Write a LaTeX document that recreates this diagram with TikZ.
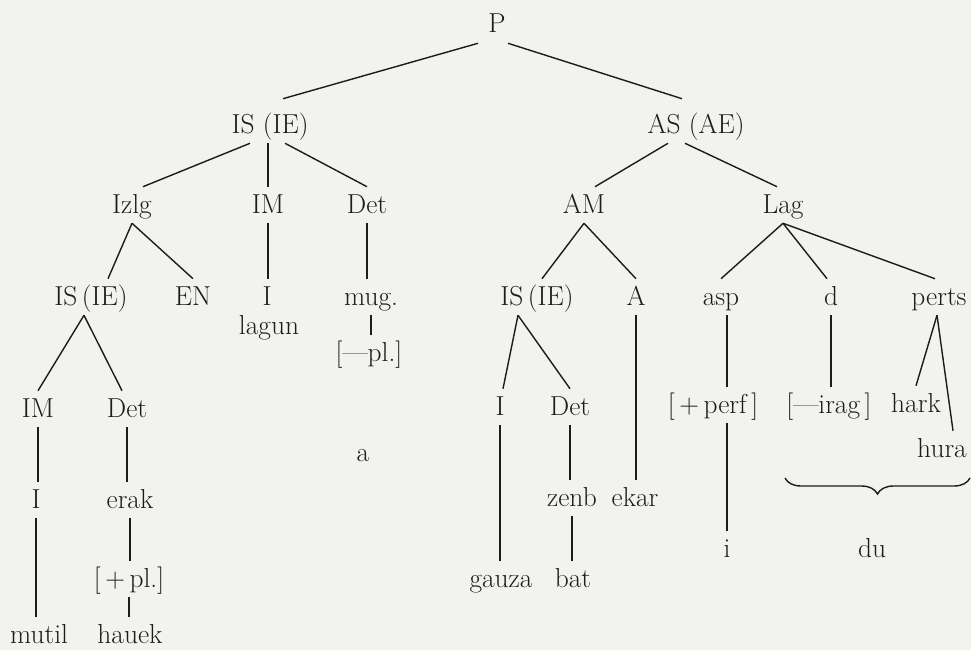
\documentclass[tikz,border=0pt]{standalone}
\usetikzlibrary{decorations.pathreplacing}
\definecolor{paper}{RGB}{242,242,238}
\definecolor{ink}{RGB}{28,28,28}
\tikzset{
  cat/.style={anchor=base,inner xsep=0pt,inner ysep=0.15cm,text height=0.5cm,text depth=0.1cm,text=ink,font=\fontsize{19.5}{23}\selectfont},
  twig/.style={draw=ink,line width=1pt}
}
\begin{document}
\begin{tikzpicture}[x=0.025cm,y=-0.025cm]
\fill[paper] (0,0) rectangle (971,650);
\useasboundingbox (0,0) rectangle (971,650);
\node[cat] (p) at (497,33) {P};
\node[cat] (isA) at (270,133) {IS (IE)};
\node[cat] (as) at (696,133) {AS (AE)};
\node[cat] (izlg) at (132,213) {Izlg};
\node[cat] (im1) at (268,213) {IM};
\node[cat] (det1) at (367,213) {Det};
\node[cat] (am) at (584,213) {AM};
\node[cat] (lag) at (783,213) {Lag};
\node[cat] (isB) at (91,305) {IS\,(IE)};
\node[cat] (en) at (193,305) {EN};
\node[cat] (i1) at (267,305) {I};
\node[cat] (mug) at (371,305) {mug.};
\node[cat] (isC) at (537,305) {IS\,(IE)};
\node[cat] (a1) at (636,305) {A};
\node[cat] (asp) at (721,305) {asp};
\node[cat] (d) at (831,305) {d};
\node[cat] (perts) at (939,305) {perts};
\node[cat] (lagun) at (269,334) {lagun};
\node[cat] (plA) at (369,361) {[---pl.]};
\node[cat] (a2) at (363,461) {a};
\node[cat] (im2) at (38,417) {IM};
\node[cat] (det2) at (127,417) {Det};
\node[cat] (i2) at (500,415) {I};
\node[cat] (det3) at (570,415) {Det};
\node[cat] (perf) at (713,413) {[\,+\,perf\,]};
\node[cat] (irag) at (829,413) {[---irag\,]};
\node[cat] (hark) at (916,412) {hark};
\node[cat] (hura) at (942,457) {hura};
\node[cat] (i3) at (36,508) {I};
\node[cat] (erak) at (130,508) {erak};
\node[cat] (zenb) at (572,506) {zenb};
\node[cat] (ekar) at (635,506) {ekar};
\node[cat] (plB) at (129,587) {[\,+\,pl.]};
\node[cat] (i4) at (727,557) {i};
\node[cat] (du) at (872,557) {du};
\node[cat] (gauza) at (501,587) {gauza};
\node[cat] (bat) at (573,587) {bat};
\node[cat] (mutil) at (39,643) {mutil};
\node[cat] (hauek) at (130,643) {hauek};
\draw[twig] ([xshift=-4.75mm]p.south) -- ([xshift=3.25mm,yshift=2mm]isA.north);
\draw[twig] ([xshift=2.75mm]p.south) -- ([xshift=-3.5mm,yshift=2mm]as.north);
\draw[twig] ([xshift=-5mm]isA.south) -- ([xshift=2.75mm]izlg.north);
\draw[twig] (isA.south -| im1) -- (im1.north);
\draw[twig] ([xshift=3.75mm]isA.south) -- (det1.north);
\draw[twig] ([xshift=-7mm]as.south) -- ([xshift=2.75mm]am.north);
\draw[twig] ([xshift=-2.75mm]as.south) -- ([xshift=-1.5mm]lag.north);
\draw[twig] (izlg.south) -- ([xshift=4.25mm]isB.north);
\draw[twig] (izlg.south) -- (en.north);
\draw[twig] (im1.south) -- (im1.south |- i1.north);
\draw[twig] (det1.south) -- (det1.south |- mug.north);
\draw[twig] (am.south) -- ([xshift=1.25mm]isC.north);
\draw[twig] (am.south) -- (a1.north);
\draw[twig] (lag.south) -- (asp.north);
\draw[twig] (lag.south) -- ([xshift=-1mm]d.north);
\draw[twig] (lag.south) -- ([xshift=-1mm]perts.north);
\draw[twig] (mug.south) -- (mug.south |- plA.north);
\draw[twig] ([xshift=-1.75mm]isB.south) -- (im2.north);
\draw[twig] ([xshift=-1.75mm]isB.south) -- ([xshift=-1.25mm]det2.north);
\draw[twig] ([xshift=-4.75mm]isC.south) -- ([xshift=0.75mm]i2.north);
\draw[twig] ([xshift=-4.75mm]isC.south) -- (det3.north);
\draw[twig] (a1.south) -- (a1.south |- ekar.north);
\draw[twig] (i4 |- asp.south) -- (i4 |- perf.north);
\draw[twig] (d.south) -- (d.south |- irag.north);
\draw[twig] ([xshift=-0.5mm]perts.south) -- (hark.north);
\draw[twig] ([xshift=-0.5mm]perts.south) -- ([xshift=2.75mm]hura.north);
\draw[twig] (im2.south) -- (im2.south |- i3.north);
\draw[twig] (det2.south) -- (det2.south |- erak.north);
\draw[twig] (i2.south) -- (i2.south |- gauza.north);
\draw[twig] (det3.south) -- (det3.south |- zenb.north);
\draw[twig] (perf.south -| i4) -- (i4.north);
\draw[twig] (i3.south) -- (i3.south |- mutil.north);
\draw[twig] (erak.south) -- (erak.south |- plB.north);
\draw[twig] (plB.south) -- (plB.south |- hauek.north);
\draw[twig] (zenb.south) -- (zenb.south |- bat.north);
\coordinate (braceL) at (785,478);
\coordinate (braceR) at (970,478);
\draw[twig,decorate,decoration={brace,mirror,amplitude=0.4cm}] (braceL) -- (braceR);
\end{tikzpicture}
\end{document}
